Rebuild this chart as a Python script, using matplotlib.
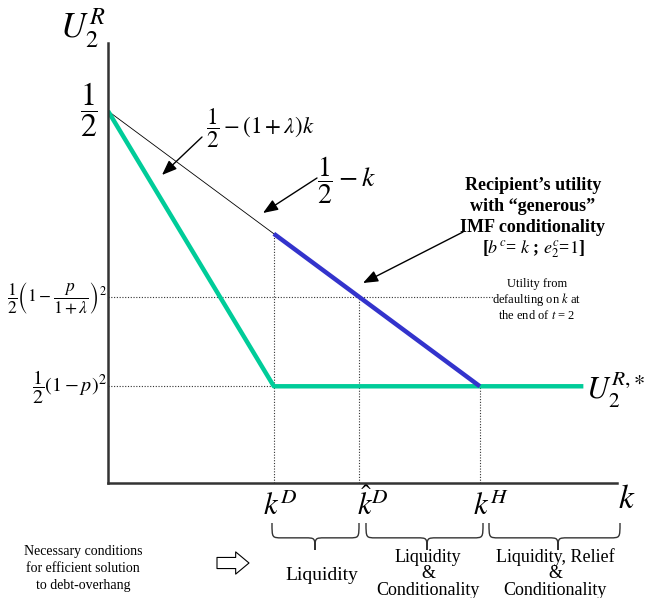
import matplotlib
matplotlib.use("Agg")
import matplotlib.pyplot as plt
from matplotlib.path import Path
from matplotlib.patches import PathPatch

plt.rcParams['font.family'] = ['Liberation Serif', 'DejaVu Serif']
plt.rcParams['mathtext.fontset'] = 'stix'

# critical debt levels on the k axis
k_D = 0.165
k_hat_D = 0.25
k_H = 0.37
k_end = 0.473

# utility levels
U_top = 0.5
U_mid = 0.25
U_low = 0.13

# recipient utility paths
green_k = [0, k_D, k_end]
green_U = [U_top, U_low, U_low]
blue_k = [k_D, k_H]
blue_U = [U_top - k_D, U_low]
thin_k = [0, k_D]
thin_U = [U_top, U_top - k_D]

GREEN = '#00CC99'
BLUE = '#3333CC'
W, H = 646, 598

fig = plt.figure(figsize=(W / 100, H / 100), dpi=100)
ax = fig.add_axes([108 / W, 115 / H, 538 / W, 443 / H])
ax.set_xlim(0, 538 / 1005)
ax.set_ylim(0, 443 / 744)
ax.axis('off')


def fp(x, y):
    # top-left pixel position -> figure pixels
    return (x, H - y)


def txt(s, x, y, size, **kw):
    kw.setdefault('ha', 'center')
    kw.setdefault('va', 'center')
    ax.annotate(s, xy=fp(x, y), xycoords='figure pixels', fontsize=size,
                annotation_clip=False, **kw)


def arrow(x0, y0, x1, y1):
    ax.annotate('', xy=fp(x1, y1), xycoords='figure pixels',
                xytext=fp(x0, y0), textcoords='figure pixels',
                arrowprops=dict(arrowstyle='-|>,head_length=0.9,head_width=0.35',
                                color='black', lw=1.0, shrinkA=0, shrinkB=0))


def brace(x0, x1, xm, y0, h):
    ym = y0 + h * 0.55
    r = 10
    pts = [(x0, y0), (x0, ym), (x0, ym), (x0 + r, ym),
           (xm - r, ym),
           (xm, ym), (xm, ym), (xm, y0 + h),
           (xm, ym), (xm, ym), (xm + r, ym),
           (x1 - r, ym),
           (x1, ym), (x1, ym), (x1, y0)]
    codes = [Path.MOVETO] + [Path.CURVE4] * 3 + [Path.LINETO] + [Path.CURVE4] * 6 \
        + [Path.LINETO] + [Path.CURVE4] * 3
    verts = [(x / W, 1 - y / H) for x, y in pts]
    fig.add_artist(PathPatch(Path(verts, codes), transform=fig.transFigure,
                             fill=False, ec='#333333', lw=1.0))


# axes
ax.plot([0, 0], [0, 0.591], color='#333333', lw=1.8, clip_on=False, zorder=4)
ax.plot([0, 0.506], [0, 0], color='#333333', lw=1.8, clip_on=False, zorder=4)

# dotted guides
dot = dict(color='#333333', lw=0.8, ls=(0, (1, 1.5)), zorder=1)
ax.plot([0, 0.383], [U_mid, U_mid], **dot)
ax.plot([0, k_D], [U_low, U_low], **dot)
ax.plot([k_D, k_D], [0, U_top - k_D], **dot)
ax.plot([k_hat_D, k_hat_D], [0, U_mid], **dot)
ax.plot([k_H, k_H], [0, U_low], **dot)

ax.plot(thin_k, thin_U, color='black', lw=0.6, zorder=2)
ax.plot(green_k, green_U, color=GREEN, lw=3.2, zorder=3, solid_capstyle='butt')
ax.plot(blue_k, blue_U, color=BLUE, lw=3.2, zorder=3, solid_capstyle='butt')

# y-axis labels
txt(r'$U_2^R$', 60, 38, 25, ha='left', va='baseline')
txt(r'$\dfrac{1}{2}$', 89, 110, 23)
txt(r'$\dfrac{1}{2}\left(1-\dfrac{p}{1+\lambda}\right)^2$', 107, 298, 12.5, ha='right')
txt(r'$\dfrac{1}{2}\left(1-p\right)^2$', 107, 387, 14.5, ha='right')
txt(r'$U_2^{R,\!\ast}$', 586, 400, 22, ha='left', va='baseline')

# curve labels
txt(r'$\dfrac{1}{2}-\left(1+\lambda\right)k$', 260, 128, 16.5)
arrow(202, 137, 162, 175)
txt(r'$\dfrac{1}{2}-k$', 347, 180, 20)
arrow(317, 178, 263, 213)

for s, y in [('Recipient\u2019s utility', 190), ('with \u201cgenerous\u201d', 211),
             ('IMF conditionality', 232), (r'[$b^c$= $k$ ; $e_2^c$=$1$]', 253)]:
    txt(s, 533, y, 13, va='baseline', fontweight='bold')
arrow(463, 232, 363, 283)

for s, y in [('Utility from', 287), (r'defaulting on $k$ at', 303),
             (r'the end of $t$ = 2', 319)]:
    txt(s, 537, y, 9, va='baseline')

# k-axis labels
txt(r'$k^D$', 263, 515, 22, ha='left', va='baseline')
txt(r'$\hat{k}^D$', 357, 515, 22, ha='left', va='baseline')
txt(r'$k^H$', 473, 515, 22, ha='left', va='baseline')
txt(r'$k$', 618, 508, 24, ha='left', va='baseline')

brace(272, 359, 315, 523, 27)
brace(366, 483, 427, 523, 27)
brace(489, 620, 558, 523, 27)

txt('Liquidity', 322, 580, 14, va='baseline')
for s, x in [('Liquidity', 428), ('Liquidity, Relief', 555)]:
    txt(s, x, 562, 13, va='baseline')
    txt('&', x, 578, 13, va='baseline')
    txt('Conditionality', x, 595, 13, va='baseline')

for s, y in [('Necessary conditions', 555), ('for efficient solution', 572),
             ('to debt-overhang', 589)]:
    txt(s, 83, y, 10, va='baseline')

ax.annotate('', xy=fp(249, 563), xycoords='figure pixels',
            xytext=fp(217, 563), textcoords='figure pixels',
            arrowprops=dict(arrowstyle='simple,head_length=0.6,head_width=1.0,tail_width=0.5',
                            fc='white', ec='black', lw=0.8, shrinkA=0, shrinkB=0,
                            mutation_scale=16))

fig.savefig('out.png', dpi=100)
